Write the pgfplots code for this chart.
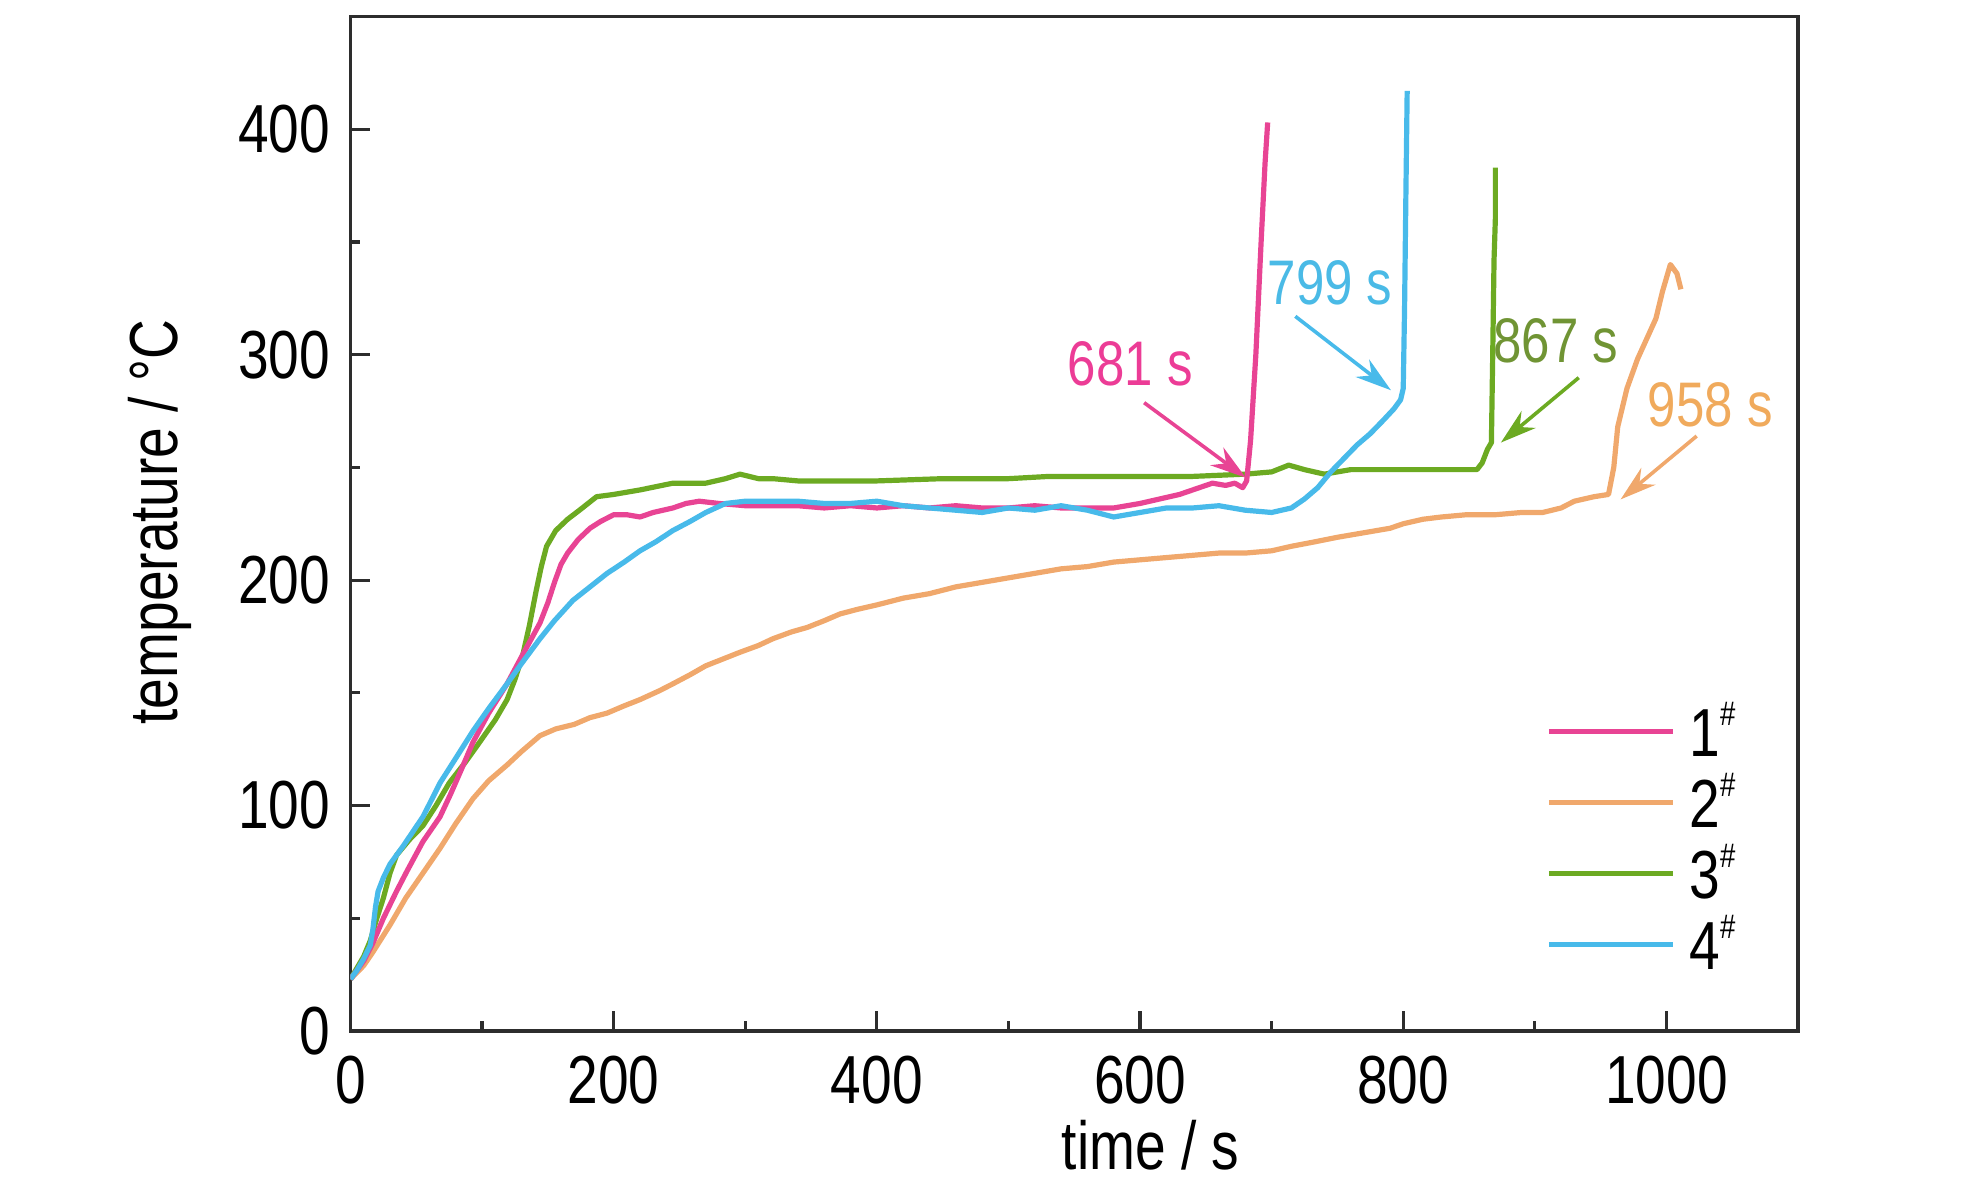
\documentclass[border=0pt]{standalone}
\usepackage{fontspec}
\setmainfont{Liberation Sans}[FakeStretch=0.81]
\usepackage{pgfplots}
\pgfplotsset{compat=1.18}
\usetikzlibrary{arrows.meta}
\definecolor{c1}{RGB}{232,68,148}
\definecolor{c2}{RGB}{240,168,108}
\definecolor{c3}{RGB}{108,170,34}
\definecolor{c4}{RGB}{72,186,234}
\definecolor{t1}{RGB}{236,60,150}
\definecolor{t2}{RGB}{240,170,92}
\definecolor{t3}{RGB}{112,148,52}
\definecolor{t4}{RGB}{74,186,230}
\definecolor{frame}{RGB}{45,45,45}
\newcommand{\bigf}{\fontsize{34bp}{40bp}\selectfont}
\newcommand{\annf}{\fontsize{31.5bp}{36bp}\selectfont}
\newcommand{\sh}{\raisebox{15.5bp}{\fontsize{17bp}{17bp}\selectfont\#}}
\begin{document}
\begin{tikzpicture}
\begin{axis}[
  scale only axis,
  width=723.75bp, height=507.25bp,
  xmin=0, xmax=1100, ymin=0, ymax=450,
  xtick={0,200,400,600,800,1000},
  ytick={0,100,200,300,400},
  minor x tick num=1, minor y tick num=1,
  tick pos=left, tick align=inside,
  major tick length=10bp, minor tick length=5bp,
  every tick/.style={frame, line width=1.6bp},
  axis line style={frame, line width=1.6bp},
  /pgf/number format/assume math mode=true,
  /pgf/number format/1000 sep={},
  ticklabel style={font=\bigf},
  xticklabel style={anchor=north, inner sep=0pt, yshift=-12.5bp},
  yticklabel style={anchor=east, inner sep=0pt, xshift=-10bp},
  xlabel={time / s}, ylabel={temperature / °C},
  every axis x label/.style={at={(axis description cs:0.5527,-0.137)}, anchor=base, inner sep=0pt, font=\bigf},
  every axis y label/.style={at={(axis description cs:-0.1192,0.5017)}, rotate=90, anchor=base, inner sep=0pt, font=\bigf},
  legend style={at={(axis description cs:0.8259,0.1902)}, anchor=west, draw=none, fill=none,
    inner sep=0pt, row sep=10.5bp, column sep=7bp, font=\bigf,
    nodes={inner sep=0pt, text height=25bp, text depth=0pt}},
  legend cell align=left,
  legend image code/.code={\draw[#1, line width=2.5bp] (0bp,0bp) -- (62bp,0bp);},
  every axis plot/.append style={line width=2.6bp, line join=round},
]
\addlegendimage{c1}
\addlegendimage{c2}
\addlegendimage{c3}
\addlegendimage{c4}
\legend{1\sh, 2\sh, 3\sh, 4\sh}

% 2#
\addplot[c2, forget plot] coordinates {
(0,23) (5,26) (10,29) (17,35) (30,47) (42,59) (55,70) (68,81) (80,92) (93,103)
(105,111) (119,118) (130,124) (144,131) (156,134) (170,136) (182,139) (195,141)
(207,144) (220,147) (235,151) (245,154) (258,158) (270,162) (283,165) (296,168)
(310,171) (321,174) (335,177) (347,179) (360,182) (372,185) (385,187) (400,189)
(420,192) (440,194) (460,197) (480,199) (500,201) (520,203) (540,205) (560,206)
(580,208) (600,209) (620,210) (640,211) (660,212) (680,212) (700,213) (715,215)
(733,217) (750,219) (770,221) (790,223) (800,225) (815,227) (829,228) (848,229)
(870,229) (890,230) (906,230) (920,232) (930,235) (945,237) (956,238) (960,250)
(963,268) (970,285) (978,298) (985,307) (992,316) (997,328) (1003,340) (1008,336) (1011,329)};

% 3#
\addplot[c3, forget plot] coordinates {
(0,23) (5,28) (10,33) (15,40) (20,50) (25,59) (30,70) (35,78) (45,85) (55,91)
(65,100) (75,110) (87,119) (98,128) (110,138) (119,147) (125,156) (131,167)
(136,180) (141,195) (145,206) (149,215) (156,222) (165,227) (174,231) (187,237)
(200,238) (220,240) (245,243) (270,243) (285,245) (296,247) (310,245) (321,245)
(340,244) (372,244) (400,244) (450,245) (500,245) (531,246) (560,246) (600,246)
(640,246) (680,247) (700,248) (713,251) (725,249) (740,247) (760,249) (800,249)
(840,249) (856,249) (860,252) (864,258) (867,261) (868,300) (869,342) (870,360) (870,383)};

% 1#
\addplot[c1, forget plot] coordinates {
(0,23) (5,27) (10,31) (17,39) (25,50) (35,62) (43,71) (55,84) (68,95) (76,105)
(85,117) (93,128) (105,141) (119,154) (130,166) (144,181) (150,190) (155,199)
(160,207) (165,212) (173,218) (182,223) (190,226) (200,229) (210,229) (220,228)
(230,230) (245,232) (255,234) (265,235) (280,234) (300,233) (320,233) (340,233)
(360,232) (380,233) (400,232) (420,233) (440,232) (460,233) (480,232) (500,232)
(520,233) (540,232) (560,232) (580,232) (600,234) (615,236) (630,238) (645,241)
(655,243) (665,242) (672,243) (678,241) (681,244) (684,262) (688,300) (692,350)
(695,385) (697,403)};

% 4#
\addplot[c4, forget plot] coordinates {
(0,23) (5,27) (10,32) (15,38) (17,45) (19,55) (21,62) (25,68) (30,74) (40,82)
(55,95) (62,103) (68,110) (80,121) (93,133) (105,143) (119,154) (130,163)
(144,174) (155,182) (169,191) (182,197) (195,203) (208,208) (220,213) (232,217)
(245,222) (258,226) (270,230) (285,234) (300,235) (320,235) (340,235) (360,234)
(380,234) (400,235) (420,233) (440,232) (460,231) (480,230) (500,232) (520,231)
(540,233) (560,231) (580,228) (600,230) (620,232) (640,232) (660,233) (680,231)
(700,230) (715,232) (725,236) (735,241) (745,248) (755,254) (765,260) (775,265)
(785,271) (793,276) (798,280) (800,285) (801,320) (802,370) (803,417)};

% annotations
\node[t1, font=\annf, anchor=base, inner sep=0pt] at (axis cs:592.5,286.5) {681 s};
\node[t4, font=\annf, anchor=base, inner sep=0pt] at (axis cs:744.4,322.3) {799 s};
\node[t3, font=\annf, anchor=base, inner sep=0pt] at (axis cs:916,296.6) {867 s};
\node[t2, font=\annf, anchor=base, inner sep=0pt] at (axis cs:1033.3,268.3) {958 s};
\draw[c1, line width=1.8bp, -{Stealth[length=18bp,width=11bp]}] (axis cs:603.1,278.7) -- (axis cs:680.4,245.4);
\draw[c4, line width=1.8bp, -{Stealth[length=18bp,width=11bp]}] (axis cs:718,317) -- (axis cs:790.7,284.2);
\draw[c3, line width=1.8bp, -{Stealth[length=18bp,width=11bp]}] (axis cs:933.4,289.8) -- (axis cs:874.2,261);
\draw[c2, line width=1.8bp, -{Stealth[length=18bp,width=11bp]}] (axis cs:1023,263.9) -- (axis cs:965.2,235.8);
\end{axis}
\pgfresetboundingbox
\path[use as bounding box] (-175.25bp,-75bp) rectangle (816.75bp,515.5bp);
\end{tikzpicture}
\end{document}
